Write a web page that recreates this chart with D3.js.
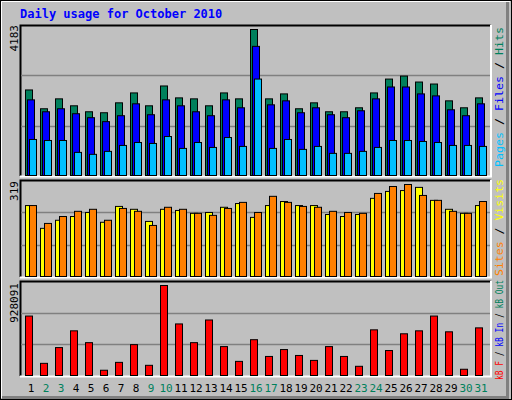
<!DOCTYPE html>
<html><head><meta charset="utf-8">
<script src="https://cdn.jsdelivr.net/npm/d3@7"></script>
<style>body{margin:0;background:#fff}</style></head>
<body><svg id="c" width="512" height="400"></svg>
<script>
const days = d3.range(1,32);
const weekend = [2,3,9,10,16,17,23,24,30,31];
const hits = [2451,1912,2196,1997,1826,1798,2082,2366,1997,2565,2224,2196,1997,2366,2196,4183,2196,2338,1912,2082,1826,1826,1940,2366,2763,2849,2678,2621,2139,1940,2224];
const files = [2167,1826,1912,1770,1656,1543,1713,2054,1741,2167,1997,1826,1713,2167,1940,3700,2025,2139,1798,1940,1741,1656,1855,2196,2536,2536,2338,2281,1883,1713,2054];
const pages = [1032,1003,1003,662,606,691,861,946,918,1117,776,946,804,1088,833,2763,776,1032,748,833,634,634,691,804,1003,1003,975,946,861,861,833];
const visits = [246,167,195,208,222,188,243,233,191,233,229,219,222,240,253,205,246,260,246,246,215,208,215,271,295,298,309,264,233,219,246];
const sites = [246,184,208,226,233,195,236,226,177,240,233,219,212,236,257,222,278,257,243,240,226,222,219,288,312,319,281,264,226,219,260];
const kbytes = [613090,125327,287910,460660,338720,54200,135490,318400,105000,928091,531790,338720,572440,298070,145650,369200,196460,267590,206620,155810,298070,196460,94840,470820,257430,430170,460660,613090,450500,64360,491140];
const maxLabels = ["4183","319","928091"];

const svg = d3.select("#c");
const F = "'DejaVu Sans Mono', monospace";
svg.append("rect").attr("x",0).attr("y",0).attr("width",512).attr("height",400).attr("fill","#c0c0c0");
svg.append("rect").attr("x",0.5).attr("y",0.5).attr("width",511).attr("height",399).attr("fill","none").attr("stroke","#000");
svg.append("path").attr("d","M507.5,2V397.5H2").attr("stroke","#808080").attr("stroke-width",3).attr("fill","none");
svg.append("path").attr("d","M1.5,398V1.5H510").attr("stroke","#fff").attr("stroke-width",1).attr("fill","none");

svg.append("text").attr("x",20).attr("y",18).attr("font-family",F).attr("font-weight","bold").attr("font-size",12).attr("fill","#0000ff").text("Daily usage for October 2010");

const x = d3.scaleLinear().domain([1,31]).range([25,475]);

function panel(top,bottom,max){
  svg.append("path").attr("d",`M20.5,${bottom}V${top+0.5}H490.5`).attr("stroke","#000").attr("fill","none").attr("stroke-width",2);
  svg.append("path").attr("d",`M491,${top}V${bottom+0.5}H20`).attr("stroke","#fff").attr("fill","none").attr("stroke-width",2);
  const y = d3.scaleLinear().domain([0,max]).range([bottom-1,top+4]);
  const h = bottom-top;
  [1/3,2/3].forEach(f=>{
    const gy = Math.round(top+h*f)+0.5;
    svg.append("line").attr("x1",21).attr("x2",490).attr("y1",gy).attr("y2",gy).attr("stroke","#808080").attr("stroke-width",1.3);
  });
  return y;
}
function bars(data,y,dx,w,color){
  svg.append("g").selectAll("rect").data(data).join("rect")
    .attr("x",(d,i)=>x(days[i])+dx+0.5).attr("y",d=>y(d)+0.5)
    .attr("width",w).attr("height",d=>y(0)-y(d))
    .attr("fill",color).attr("stroke","#000").attr("stroke-width",1);
}
const y1 = panel(25,176,d3.max(hits));
bars(hits,y1,0,7,"#00805c");
bars(files,y1,2,7,"#0000ff");
bars(pages,y1,4,7,"#00c0ff");
const y2 = panel(180,277,d3.max(sites));
bars(visits,y2,0,7,"#ffff00");
bars(sites,y2,4,7,"#ff8000");
const y3 = panel(281,376,d3.max(kbytes));
bars(kbytes,y3,0,7,"#ff0000");

[[maxLabels[0],25],[maxLabels[1],181],[maxLabels[2],283]].forEach(([t,yy])=>{
  svg.append("text").attr("transform",`translate(18,${yy}) rotate(-90)`).attr("text-anchor","end")
    .attr("font-family",F).attr("font-size",11).attr("fill","#000").text(t);
});

svg.append("g").selectAll("text").data(days).join("text")
  .attr("x",d=>x(d)+6).attr("y",392).attr("text-anchor","middle")
  .attr("font-family",F).attr("font-size",11)
  .attr("fill",d=>weekend.includes(d)?"#00805c":"#000").text(d=>d);

function legend(yTop,len,parts){
  const t = svg.append("text").attr("transform",`translate(503,${yTop}) rotate(-90)`).attr("text-anchor","end")
    .attr("font-family",F).attr("font-size",11).attr("textLength",len).attr("lengthAdjust","spacingAndGlyphs");
  parts.forEach(([s,c])=>t.append("tspan").attr("fill",c).text(s));
}
legend(27,140,[["Pages","#00c0ff"],[" / ","#000"],["Files","#0000ff"],[" / ","#000"],["Hits","#00805c"]]);
legend(179,97,[["Sites","#ff8000"],[" / ","#000"],["Visits","#ffff00"]]);
legend(280,100,[["kB F","#ff0000"],[" / ","#000"],["kB In","#0000ff"],[" / ","#000"],["kB Out","#00805c"]]);
</script></body></html>
